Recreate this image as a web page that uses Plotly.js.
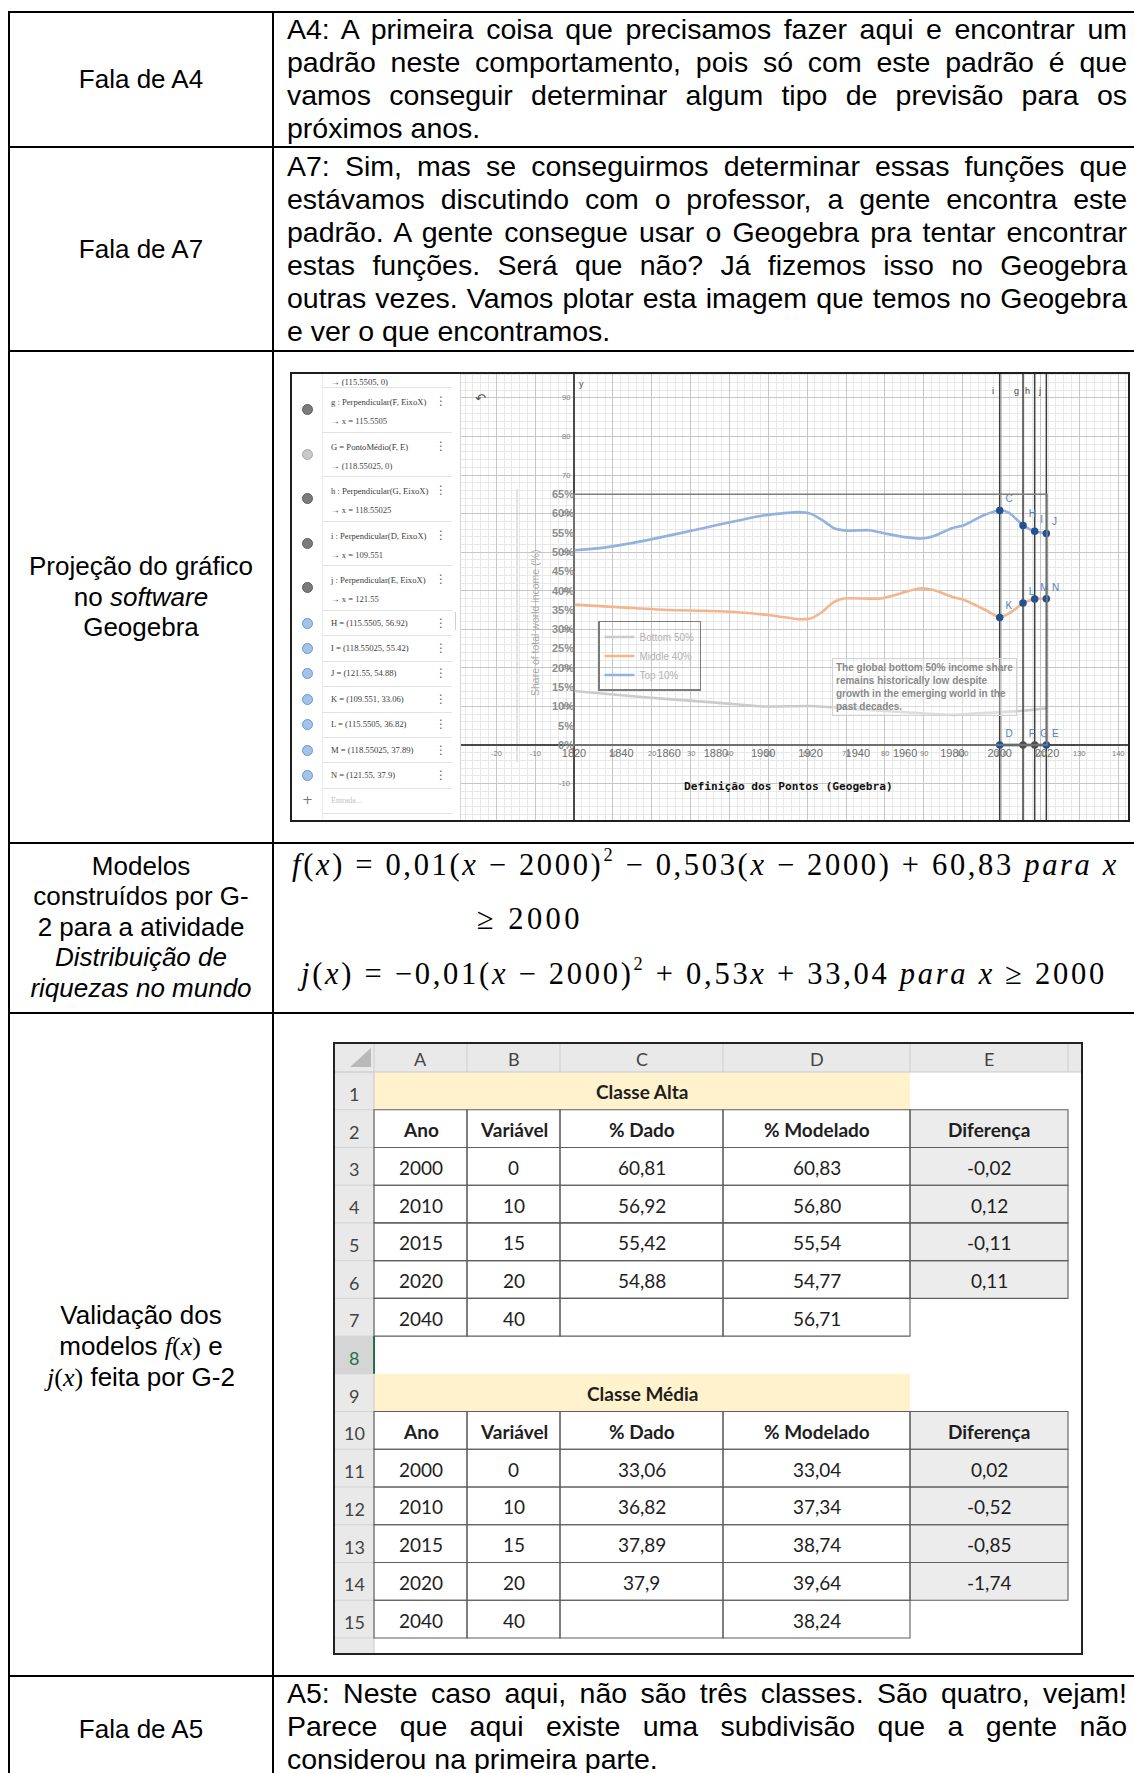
<!DOCTYPE html>
<html><head><meta charset="utf-8">
<script src="https://cdn.plot.ly/plotly-3.0.1.min.js"></script>
<style>
html,body{margin:0;padding:0;background:#fff;}
#page{position:relative;width:1134px;height:1773px;overflow:hidden;background:#fff;font-family:'Liberation Sans',Arial,sans-serif;color:#000;}
.hl{position:absolute;left:8px;right:0;height:2px;background:#000;}
.vl{position:absolute;top:11px;bottom:0;width:2px;background:#000;}
.txt{position:absolute;left:287px;width:840px;font-size:28.5px;line-height:33px;}
.txt div{white-space:nowrap;height:33px;}
.lab{position:absolute;left:10px;width:262px;text-align:center;font-size:26px;line-height:30.5px;}
.lab div{white-space:nowrap;}
.ms{font-family:'Liberation Serif','Times New Roman',serif;}
.mi{font-family:'Liberation Serif','Times New Roman',serif;font-style:italic;}
.frm{position:absolute;font-family:'Liberation Serif','Times New Roman',serif;font-size:30.5px;line-height:36px;white-space:nowrap;}
.fit{display:inline-block;white-space:nowrap;}
.sp{font-size:0.6em;position:relative;top:-0.78em;}
</style>
</head>
<body>
<div id="page">
  <div class="hl" style="top:11px"></div>
  <div class="hl" style="top:146px"></div>
  <div class="hl" style="top:350px"></div>
  <div class="hl" style="top:842px"></div>
  <div class="hl" style="top:1012px"></div>
  <div class="hl" style="top:1675px"></div>
  <div class="vl" style="left:8px"></div>
  <div class="vl" style="left:272px"></div>

  <div class="lab" style="top:63.7px"><div>Fala de A4</div></div>
  <div class="txt" style="top:12.6px">
    <div class="j"><span>A4: A primeira coisa que precisamos fazer aqui e encontrar um</span></div>
    <div class="j"><span>padrão neste comportamento, pois só com este padrão é que</span></div>
    <div class="j"><span>vamos conseguir determinar algum tipo de previsão para os</span></div>
    <div><span>próximos anos.</span></div>
  </div>

  <div class="lab" style="top:233.7px"><div>Fala de A7</div></div>
  <div class="txt" style="top:149.6px">
    <div class="j"><span>A7: Sim, mas se conseguirmos determinar essas funções que</span></div>
    <div class="j"><span>estávamos discutindo com o professor, a gente encontra este</span></div>
    <div class="j"><span>padrão. A gente consegue usar o Geogebra pra tentar encontrar</span></div>
    <div class="j"><span>estas funções. Será que não? Já fizemos isso no Geogebra</span></div>
    <div class="j"><span>outras vezes. Vamos plotar esta imagem que temos no Geogebra</span></div>
    <div><span>e ver o que encontramos.</span></div>
  </div>

  <div class="lab" style="top:551.3px">
    <div>Projeção do gráfico</div>
    <div>no <i>software</i></div>
    <div>Geogebra</div>
  </div>

  <div id="ggbPanel" style="position:absolute;left:292px;top:374px;width:169px;height:446px;overflow:hidden;background:#fff;border-right:1px solid #d6d6d6;box-sizing:border-box;"></div>
  <div id="ggb" style="position:absolute;left:461px;top:372px;width:669px;height:450px;"></div>
  <div style="position:absolute;left:290px;top:372px;width:840px;height:450px;border:2px solid #1e1e1e;box-sizing:border-box;pointer-events:none;"></div>

  <div class="lab" style="top:850.7px">
    <div>Modelos</div>
    <div>construídos por G-</div>
    <div>2 para a atividade</div>
    <div><i>Distribuição de</i></div>
    <div><i>riquezas no mundo</i></div>
  </div>
  <div class="frm" style="left:292px;top:847px"><span class="fit" data-w="827"><span class="mi">f</span>(<span class="mi">x</span>) = 0,01(<span class="mi">x</span> − 2000)<span class="sp">2</span> − 0,503(<span class="mi">x</span> − 2000) + 60,83 <span class="mi">para x</span></span></div>
  <div class="frm" style="left:477px;top:901px"><span class="fit" data-w="106">≥ 2000</span></div>
  <div class="frm" style="left:301px;top:956px"><span class="fit" data-w="806"><span class="mi">j</span>(<span class="mi">x</span>) = −0,01(<span class="mi">x</span> − 2000)<span class="sp">2</span> + 0,53<span class="mi">x</span> + 33,04 <span class="mi">para x</span> ≥ 2000</span></div>

  <div class="lab" style="top:1300px">
    <div>Validação dos</div>
    <div>modelos <span class="mi">f</span><span class="ms">(</span><span class="mi">x</span><span class="ms">)</span> e</div>
    <div><span class="mi">j</span><span class="ms">(</span><span class="mi">x</span><span class="ms">)</span> feita por G-2</div>
  </div>
  <div id="sheet" style="position:absolute;left:334px;top:1043px;width:748px;height:611px;"></div>
  <div style="position:absolute;left:333px;top:1042px;width:750px;height:613px;border:2px solid #222;box-sizing:border-box;pointer-events:none;"></div>

  <div class="lab" style="top:1713.7px"><div>Fala de A5</div></div>
  <div class="txt" style="top:1677.4px">
    <div class="j"><span>A5: Neste caso aqui, não são três classes. São quatro, vejam!</span></div>
    <div class="j"><span>Parece que aqui existe uma subdivisão que a gente não</span></div>
    <div><span>considerou na primeira parte.</span></div>
  </div>
</div>

<script>
// ---------------- DATA: world income shares (inner chart) ----------------
const topYears = [1820,1830,1840,1850,1860,1870,1880,1890,1900,1910,1915,1920,1925,1930,1935,1945,1952,1960,1968,1973,1980,1985,1993,2000,2004,2010,2015,2020];
const topShare = [50.5,51.0,51.9,53.0,54.3,55.6,57.0,58.3,59.5,60.2,60.4,60.0,58.3,56.2,55.6,55.7,54.8,53.9,53.6,54.4,56.3,57.0,59.5,60.8,60.2,56.9,55.4,54.9];
const midYears = [1820,1840,1860,1875,1888,1902,1916,1920,1924,1930,1934,1950,1958,1966,1972,1980,1985,1994,2000,2005,2010,2015,2020];
const midShare = [36.4,35.7,35.0,34.8,34.5,33.7,32.6,32.8,34.1,37.1,38.0,38.0,39.3,40.6,40.2,38.4,37.6,35.0,33.1,34.5,36.8,37.9,37.9];
const botYears = [1820,1840,1860,1880,1900,1920,1940,1960,1980,1990,2000,2010,2020];
const botShare = [14.0,12.9,11.9,11.0,10.0,10.1,9.3,8.5,7.8,8.2,8.5,8.9,9.5];
const seriesNames = ['Bottom 50%','Middle 40%','Top 10%'];
const yearTicks = [1820,1840,1860,1880,1900,1920,1940,1960,1980,2000,2020];
const pctTicks = [0,5,10,15,20,25,30,35,40,45,50,55,60,65];
const noteText = 'The global bottom 50% income share<br>remains historically low despite<br>growth in the emerging world in the<br>past decades.';

// ---------------- DATA: Geogebra objects ----------------
const ptNames = ['C','H','I','J','K','L','M','N','D','F','G','E'];
const ptX = [109.551,115.5505,118.55025,121.55,109.551,115.5505,118.55025,121.55,109.551,115.5505,118.55025,121.55];
const ptY = [60.81,56.92,55.42,54.88,33.06,36.82,37.89,37.9,0,0,0,0];
const perpNames = ['i','g','h','j'];
const perpBase = ['D','F','G','E'];
const perpX = [109.551,115.5505,118.55025,121.55];
const ggbTicksX = [-20,-10,10,20,30,40,50,60,70,80,90,100,110,120,130,140];
const ggbTicksY = [90,80,70,60,50,40,30,20,10,-10];

// ---------------- DATA: spreadsheet ----------------
const colLetters = ['A','B','C','D','E'];
const headers = ['Ano','Variável','% Dado','% Modelado','Diferença'];
const blockTitles = ['Classe Alta','Classe Média'];
const anos = [2000,2010,2015,2020,2040];
const variavel = [0,10,15,20,40];
const altaDado = [60.81,56.92,55.42,54.88,null];
const altaModelado = [60.83,56.80,55.54,54.77,56.71];
const altaDiferenca = [-0.02,0.12,-0.11,0.11,null];
const mediaDado = [33.06,36.82,37.89,37.9,null];
const mediaModelado = [33.04,37.34,38.74,39.64,38.24];
const mediaDiferenca = [0.02,-0.52,-0.85,-1.74,null];

// ================= Geogebra algebra panel =================
(function(){
  const panel = document.getElementById('ggbPanel');
  const add = (html, css) => { const d=document.createElement('div'); d.innerHTML=html; d.style.cssText='position:absolute;white-space:nowrap;'+css; panel.appendChild(d); return d; };
  const iF = ptNames.indexOf('F'), iG = ptNames.indexOf('G');
  const rows = [];
  rows.push({h:13, partial:true, l1:'→ ('+ptX[iF]+', 0)'});
  rows.push({h:44.6, icon:'dark', l1:'g : Perpendicular('+perpBase[1]+', EixoX)', l2:'→ x = '+perpX[1]});
  rows.push({h:44.6, icon:'light', l1:'G = PontoMédio(F, E)', l2:'→ ('+ptX[iG]+', 0)'});
  rows.push({h:44.6, icon:'dark', l1:'h : Perpendicular('+perpBase[2]+', EixoX)', l2:'→ x = '+perpX[2]});
  rows.push({h:44.6, icon:'dark', l1:'i : Perpendicular('+perpBase[0]+', EixoX)', l2:'→ x = '+perpX[0]});
  rows.push({h:44.6, icon:'dark', l1:'j : Perpendicular('+perpBase[3]+', EixoX)', l2:'→ x = '+perpX[3]});
  ['H','I','J','K','L','M','N'].forEach(n=>{ const k=ptNames.indexOf(n); rows.push({h:25.4, icon:'blue', l1:n+' = ('+ptX[k]+', '+ptY[k]+')'}); });
  rows.push({h:25.4, plus:true, l1:'Entrada...'});
  const iconCol = {dark:['#7b7b7b','#5e5e5e'], light:['#c9c9c9','#a9a9a9'], blue:['#a3c4ea','#6f96c8']};
  add('', 'left:30px;top:0;width:1px;height:446px;background:#ececec;');
  let y = 0;
  const txt = 'font-family:Liberation Serif,serif;font-size:8.6px;line-height:12px;color:#3a3a3a;';
  rows.forEach(r=>{
    if (r.partial){
      add(r.l1, txt+'left:39px;top:2px;height:10px;overflow:hidden;');
    } else if (r.plus){
      add('+', 'left:10px;top:'+(y+4)+'px;font-size:13px;line-height:16px;color:#777;font-family:DejaVu Sans,sans-serif;');
      add(r.l1, 'left:39px;top:'+(y+7)+'px;font-size:8px;line-height:12px;color:#c2c2c2;font-family:Liberation Serif,serif;');
    } else if (r.l2){
      const c = iconCol[r.icon];
      add('', 'left:10px;top:'+(y+17)+'px;width:9px;height:9px;border-radius:50%;background:'+c[0]+';border:1px solid '+c[1]+';');
      add(r.l1, txt+'left:39px;top:'+(y+9)+'px;');
      add(r.l2, txt+'left:39px;top:'+(y+28)+'px;color:#444;');
      add('⋮', 'left:143px;top:'+(y+7)+'px;font-size:12px;line-height:14px;color:#666;font-family:DejaVu Sans,sans-serif;');
    } else {
      const c = iconCol[r.icon];
      add('', 'left:10px;top:'+(y+7.5)+'px;width:9px;height:9px;border-radius:50%;background:'+c[0]+';border:1px solid '+c[1]+';');
      add(r.l1, txt+'left:39px;top:'+(y+6.5)+'px;');
      add('⋮', 'left:143px;top:'+(y+5.5)+'px;font-size:12px;line-height:14px;color:#666;font-family:DejaVu Sans,sans-serif;');
    }
    y += r.h;
    add('', 'left:30px;top:'+Math.round(y)+'px;width:130px;height:1px;background:#e3e3e3;');
  });
  add('', 'left:163px;top:238px;width:1px;height:18px;background:#cfcfcf;');
})();

// ================= Geogebra graphics view (Plotly) =================
(function(){
  const ggbXRange = [-29.08, 143.08];
  const ggbYRange = [-19.97, 96.73];
  const iD = ptNames.indexOf('D'), iE = ptNames.indexOf('E');
  const yearOf = u => 1820 + u*(2000-1820)/ptX[iD];
  const lineCols = ['#cbcbcb','#f2b68f','#94b3dc'];
  const series = [[botYears,botShare],[midYears,midShare],[topYears,topShare]];
  const traces = series.map((s,k)=>({
    x:s[0], y:s[1], xaxis:'x2', yaxis:'y2', type:'scatter', mode:'lines', name:seriesNames[k],
    line:{color:lineCols[k], width:2.6, shape:'spline', smoothing:0.6}, hoverinfo:'skip'
  }));
  perpX.forEach((v,k)=>{
    traces.push({x:[v,v], y:[ggbYRange[0]-5, ggbYRange[1]+5], xaxis:'x3', yaxis:'y', mode:'lines',
      line:{color:'#3c3c3c', width:1.5}, showlegend:false, hoverinfo:'skip'});
  });
  traces.push({x:[ptX[iD], ptX[iE]], y:[ptY[iD], ptY[iE]], xaxis:'x3', yaxis:'y', mode:'lines',
    line:{color:'#2f2f2f', width:2.6}, showlegend:false, hoverinfo:'skip'});
  traces.push({x:ptX, y:ptY, xaxis:'x3', yaxis:'y', mode:'markers+text', text:ptNames, textposition:'top right',
    marker:{size:7.5, color:ptNames.map(n=>(n==='F'||n==='G')?'#505050':'#24518f')},
    textfont:{size:10, color:'#5a80b4', family:'Liberation Sans, Arial'}, cliponaxis:false, showlegend:false, hoverinfo:'skip'});

  const ann = [];
  ggbTicksX.forEach(v=>ann.push({x:v, y:0, xref:'x', yref:'y', text:String(v), showarrow:false, yanchor:'top', yshift:-2,
    font:{size:7.5, color:'#7c7c7c'}}));
  ggbTicksY.forEach(v=>ann.push({x:0, y:v, xref:'x', yref:'y', text:String(v), showarrow:false, xanchor:'right', xshift:-2,
    font:{size:7.5, color:'#7c7c7c'}}));
  perpNames.forEach((n,k)=>ann.push({x:perpX[k], y:0.973, xref:'x', yref:'paper', text:n, showarrow:false, xshift:-7,
    font:{size:9, color:'#444'}}));
  ann.push({x:0, y:0.989, xref:'x', yref:'paper', text:'y', showarrow:false, xanchor:'left', xshift:3, font:{size:9, color:'#555'}});
  ann.push({x:0.018, y:0.963, xref:'paper', yref:'paper', text:'↶', showarrow:false, font:{size:13, color:'#555', family:'DejaVu Sans'}});
  ann.push({x:0.0987, y:0.4422, xref:'paper', yref:'paper', text:'Share of total world income (%)', textangle:-90, showarrow:false,
    font:{size:10.5, color:'#a9a9a9'}});
  ann.push({x:0.5546, y:0.3644, xref:'paper', yref:'paper', xanchor:'left', yanchor:'top', align:'left', text:noteText, showarrow:false,
    bordercolor:'#d2d2d2', borderwidth:1, borderpad:3, bgcolor:'rgba(255,255,255,0.35)',
    font:{size:10, color:'#8a8a8a', weight:'bold'}});
  ann.push({x:0.4888, y:0.06, xref:'paper', yref:'paper', text:'Definição dos Pontos (Geogebra)', showarrow:false,
    font:{family:'DejaVu Sans Mono, monospace', size:11.2, color:'#111', weight:'bold'}});

  const shapes = [
    {type:'rect', xref:'x2', yref:'y2', x0:yearTicks[0], x1:yearTicks[yearTicks.length-1], y0:pctTicks[0], y1:pctTicks[pctTicks.length-1],
      line:{color:'#7e7e7e', width:1.5}, fillcolor:'rgba(0,0,0,0)', layer:'above'},
    {type:'line', xref:'paper', yref:'paper', x0:0.0837, x1:0.0837, y0:0.133, y1:0.74, line:{color:'#c4c4c4', width:1}, layer:'below'}
  ];

  const axBase = {showticklabels:false, ticks:'', showline:false, fixedrange:true};
  const layout = {
    width:669, height:450, margin:{l:0,r:0,t:0,b:0}, paper_bgcolor:'#ffffff', plot_bgcolor:'rgba(0,0,0,0)',
    font:{family:'Liberation Sans, Arial, sans-serif'},
    showlegend:true,
    legend:{x:0.2048, y:0.4467, xanchor:'left', yanchor:'top', bgcolor:'rgba(255,255,255,0)', bordercolor:'#7c7c7c', borderwidth:1.5,
      font:{size:10, color:'#b2b2b2'}, itemwidth:30, tracegroupgap:0},
    xaxis:Object.assign({range:ggbXRange, domain:[0,1], tick0:0, dtick:10, showgrid:true, gridcolor:'#c7c7c7', gridwidth:1,
      minor:{tick0:0, dtick:2, showgrid:true, gridcolor:'#e8e8e8', gridwidth:1},
      zeroline:true, zerolinecolor:'#4a4a4a', zerolinewidth:1.3}, axBase),
    yaxis:Object.assign({range:ggbYRange, domain:[0,1], tick0:0, dtick:10, showgrid:true, gridcolor:'#c7c7c7', gridwidth:1,
      minor:{tick0:0, dtick:2, showgrid:true, gridcolor:'#e8e8e8', gridwidth:1},
      zeroline:true, zerolinecolor:'#4a4a4a', zerolinewidth:1.3}, axBase),
    xaxis2:{overlaying:'x', range:ggbXRange.map(yearOf), anchor:'free', position:0.1711, side:'bottom', showgrid:false, zeroline:false,
      showline:false, tickmode:'array', tickvals:yearTicks, ticktext:yearTicks.map(String), ticks:'', tickfont:{size:11, color:'#6e6e6e'}, fixedrange:true},
    yaxis2:{overlaying:'y', range:ggbYRange, anchor:'free', position:0.1689, side:'left', showgrid:false, zeroline:false, showline:false,
      tickmode:'array', tickvals:pctTicks, ticktext:pctTicks.map(v=>v+'%'), ticks:'', tickfont:{size:11, color:'#8d8d8d', weight:'bold'}, fixedrange:true},
    xaxis3:{overlaying:'x', range:ggbXRange, visible:false, fixedrange:true},
    shapes:shapes, annotations:ann
  };
  Plotly.newPlot('ggb', traces, layout, {staticPlot:true, displayModeBar:false});
})();

// ================= Spreadsheet (Plotly) =================
(function(){
  const colW = [40,93,93,163,187,158,14];
  const colL = []; let acc = 0; colW.forEach(w=>{colL.push(acc); acc+=w;});
  const W = 748, H = 611, hdrH = 29, rowH = 37.73;
  const rowTop = r => hdrH + (r-1)*rowH;
  const fmt2 = v => v==null ? '' : v.toFixed(2).replace('.',',');
  const fmtD = v => v==null ? '' : String(v).replace('.',',');
  const shapes = [], ann = [];
  const rect = (x0,y0,x1,y1,fill,line,lw) => shapes.push({type:'rect', xref:'x', yref:'y', x0,y0,x1,y1,
    fillcolor:fill||'rgba(0,0,0,0)', line:{color:line||'rgba(0,0,0,0)', width:line?(lw||1):0}, layer:'above'});
  const seg = (x0,y0,x1,y1,col,lw) => shapes.push({type:'line', xref:'x', yref:'y', x0,y0,x1,y1, line:{color:col, width:lw||1}, layer:'above'});
  const txt = (x,y,t,opt) => ann.push(Object.assign({x, y, xref:'x', yref:'y', text:t, showarrow:false,
    font:{family:'Lato, Open Sans, sans-serif', size:19, color:'#1e1e1e'}}, opt||{}));

  rect(0,0,W,hdrH,'#e9e9e9');
  rect(0,hdrH,colL[1],H,'#e9e9e9');
  rect(0,rowTop(8),colL[1],rowTop(9),'#d5d5d5');
  const blocks = [
    {start:1, title:blockTitles[0], dado:altaDado, mod:altaModelado, dif:altaDiferenca},
    {start:9, title:blockTitles[1], dado:mediaDado, mod:mediaModelado, dif:mediaDiferenca}
  ];
  blocks.forEach(b=>{
    rect(colL[1], rowTop(b.start), colL[5], rowTop(b.start+1), '#fff2cc');
    for (let r=b.start+1; r<=b.start+5; r++) rect(colL[5], rowTop(r), colL[6], rowTop(r+1), '#ececec');
  });
  for (let c=1;c<=6;c++) seg(colL[c],0,colL[c],hdrH,'#cdcdcd',1);
  seg(0,hdrH,W,hdrH,'#c9c9c9',1);
  seg(colL[1],hdrH,colL[1],H,'#c9c9c9',1);
  for (let r=1;r<=16;r++) seg(0,rowTop(r),colL[1],rowTop(r),'#d3d3d3',1);
  shapes.push({type:'path', xref:'x', yref:'y', path:'M 37 5 L 37 24 L 16 24 Z', fillcolor:'#b9b9b9', line:{width:0}, layer:'above'});
  blocks.forEach(b=>{
    for (let r=b.start+1; r<=b.start+6; r++){
      const lastC = (r<=b.start+5) ? 5 : 4;
      for (let c=1;c<=lastC;c++) rect(colL[c], rowTop(r), colL[c+1], rowTop(r+1), null, '#5f5f5f', 1.1);
    }
  });
  seg(colL[1], rowTop(8), colL[1], rowTop(9), '#217346', 2);

  colLetters.forEach((l,c)=>txt((colL[c+1]+colL[c+2])/2, hdrH/2+1, l, {font:{family:'Lato, sans-serif', size:18, color:'#444'}}));
  for (let r=1;r<=15;r++) txt(colL[1]/2, rowTop(r)+rowH/2+3, String(r), {font:{family:'Lato, sans-serif', size:18, color: r===8?'#217346':'#444'}});
  blocks.forEach(b=>{
    const cy = r => rowTop(r)+rowH/2+1;
    txt((colL[1]+colL[5])/2, cy(b.start), '<b>'+b.title+'</b>');
    headers.forEach((h,c)=>txt((colL[c+1]+colL[c+2])/2, cy(b.start+1), '<b>'+h+'</b>'));
    anos.forEach((a,i)=>{
      const r = b.start+2+i;
      const vals = [String(a), String(variavel[i]), fmtD(b.dado[i]), fmt2(b.mod[i]), fmt2(b.dif[i])];
      vals.forEach((v,c)=>{ if (v!=='') txt((colL[c+1]+colL[c+2])/2, cy(r), v); });
    });
  });

  const layout = {
    width:W, height:H, margin:{l:0,r:0,t:0,b:0}, paper_bgcolor:'#ffffff', plot_bgcolor:'#ffffff', showlegend:false,
    xaxis:{range:[0,W], visible:false, fixedrange:true},
    yaxis:{range:[H,0], visible:false, fixedrange:true},
    shapes:shapes, annotations:ann
  };
  Plotly.newPlot('sheet', [{x:[0], y:[0], mode:'markers', marker:{opacity:0}, hoverinfo:'skip'}], layout, {staticPlot:true, displayModeBar:false});
})();

// ================= text justification & formula fitting =================
function fitText(){
  document.querySelectorAll('.txt .j > span').forEach(sp=>{
    sp.style.wordSpacing = '0px';
    const w = sp.getBoundingClientRect().width;
    const n = (sp.textContent.match(/ /g)||[]).length;
    if (n) sp.style.wordSpacing = ((840 - w)/n) + 'px';
  });
  document.querySelectorAll('.fit').forEach(el=>{
    el.style.letterSpacing = '0px';
    const w = el.getBoundingClientRect().width;
    const n = el.textContent.length;
    const t = +el.dataset.w;
    el.style.letterSpacing = ((t - w)/n) + 'px';
  });
}
fitText();
if (document.fonts && document.fonts.ready) document.fonts.ready.then(fitText);
</script>
</body></html>
